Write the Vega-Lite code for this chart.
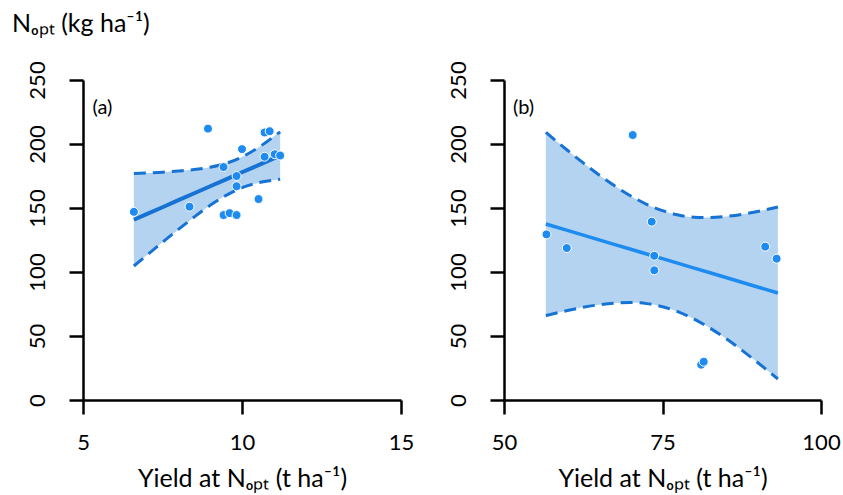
{
  "$schema": "https://vega.github.io/schema/vega-lite/v6.json",
  "background": "white",
  "padding": {"left": 12, "top": 11, "right": 0, "bottom": 3},
  "title": {"text": "Nₒₚₜ (kg ha⁻¹)", "anchor": "start", "frame": "bounds", "fontSize": 25, "font": "Lato", "fontWeight": "normal", "color": "black", "dx": -14, "offset": 24},
  "config": {
    "font": "Lato",
    "view": {"stroke": null},
    "axis": {
      "grid": false,
      "domainColor": "black",
      "domainWidth": 2.5,
      "tickColor": "black",
      "tickWidth": 2.5,
      "tickSize": 14,
      "labelColor": "black",
      "labelFont": "Lato",
      "labelFontSize": 22,
      "labelOverlap": false,
      "labelFlush": false,
      "titleColor": "black",
      "titleFont": "Lato",
      "titleFontSize": 25,
      "titleFontWeight": "normal"
    }
  },
  "spacing": 103,
  "bounds": "flush",
  "datasets": {
    "pointsA": [
      {"x": 8.93, "y": 212}, {"x": 10.71, "y": 209}, {"x": 10.87, "y": 210}, {"x": 10.0, "y": 196},
      {"x": 10.71, "y": 190}, {"x": 11.03, "y": 192}, {"x": 11.2, "y": 191}, {"x": 9.42, "y": 182},
      {"x": 9.83, "y": 175}, {"x": 9.83, "y": 167}, {"x": 10.52, "y": 157}, {"x": 8.35, "y": 151},
      {"x": 6.6, "y": 147}, {"x": 9.42, "y": 144.5}, {"x": 9.61, "y": 146}, {"x": 9.83, "y": 144.5}
    ],
    "bandA": [
      {"x": 6.6, "lo": 104.7, "hi": 176.9, "fit": 140.8},
      {"x": 7.0, "lo": 113.0, "hi": 177.4, "fit": 145.2},
      {"x": 7.5, "lo": 123.2, "hi": 178.0, "fit": 150.6},
      {"x": 8.0, "lo": 133.3, "hi": 178.9, "fit": 156.1},
      {"x": 8.5, "lo": 143.0, "hi": 180.0, "fit": 161.5},
      {"x": 9.0, "lo": 152.1, "hi": 181.9, "fit": 167.0},
      {"x": 9.5, "lo": 159.9, "hi": 184.9, "fit": 172.4},
      {"x": 10.0, "lo": 165.9, "hi": 189.9, "fit": 177.9},
      {"x": 10.5, "lo": 169.6, "hi": 197.0, "fit": 183.3},
      {"x": 11.0, "lo": 171.8, "hi": 205.8, "fit": 188.8},
      {"x": 11.2, "lo": 172.5, "hi": 209.5, "fit": 191.0}
    ],
    "pointsB": [
      {"x": 70.3, "y": 207}, {"x": 73.3, "y": 139.3}, {"x": 56.7, "y": 129.4}, {"x": 59.9, "y": 118.7},
      {"x": 73.7, "y": 112.7}, {"x": 73.7, "y": 101.3}, {"x": 91.2, "y": 119.8}, {"x": 93.0, "y": 110.4},
      {"x": 81.1, "y": 27.6}, {"x": 81.5, "y": 29.9}
    ],
    "bandB": [
      {"x": 56.6, "lo": 65.9, "hi": 209.1, "fit": 137.5},
      {"x": 60.0, "lo": 69.9, "hi": 195.1, "fit": 132.5},
      {"x": 62.5, "lo": 72.4, "hi": 185.2, "fit": 128.8},
      {"x": 65.0, "lo": 74.4, "hi": 175.8, "fit": 125.1},
      {"x": 67.5, "lo": 75.7, "hi": 167.1, "fit": 121.4},
      {"x": 70.0, "lo": 76.2, "hi": 159.4, "fit": 117.8},
      {"x": 72.5, "lo": 75.3, "hi": 152.9, "fit": 114.1},
      {"x": 75.0, "lo": 72.9, "hi": 147.9, "fit": 110.4},
      {"x": 77.5, "lo": 68.9, "hi": 144.5, "fit": 106.7},
      {"x": 80.0, "lo": 63.2, "hi": 142.8, "fit": 103.0},
      {"x": 82.5, "lo": 56.1, "hi": 142.6, "fit": 99.4},
      {"x": 85.0, "lo": 48.0, "hi": 143.4, "fit": 95.7},
      {"x": 87.5, "lo": 39.0, "hi": 145.0, "fit": 92.0},
      {"x": 90.0, "lo": 29.3, "hi": 147.3, "fit": 88.3},
      {"x": 93.2, "lo": 16.4, "hi": 150.8, "fit": 83.6}
    ]
  },
  "hconcat": [
    {
      "width": 318,
      "height": 320,
      "layer": [
        {
          "data": {"name": "bandA"},
          "mark": {"type": "area", "color": "#B4D3F1", "opacity": 1, "interpolate": "monotone"},
          "encoding": {
            "x": {"field": "x", "type": "quantitative", "scale": {"domain": [5, 15], "nice": false, "zero": false},
                  "axis": {"values": [5, 10, 15], "title": "Yield at Nₒₚₜ (t ha⁻¹)", "labelPadding": 18, "titlePadding": 13}},
            "y": {"field": "lo", "type": "quantitative", "scale": {"domain": [0, 250], "nice": false},
                  "axis": {"values": [0, 50, 100, 150, 200, 250], "title": null, "labelAngle": -90, "labelAlign": "center", "labelBaseline": "alphabetic", "labelPadding": 25}},
            "y2": {"field": "hi"}
          }
        },
        {
          "data": {"name": "bandA"},
          "mark": {"type": "line", "color": "#1673D4", "strokeWidth": 3, "strokeDash": [12, 7], "interpolate": "monotone"},
          "encoding": {"x": {"field": "x", "type": "quantitative"}, "y": {"field": "hi", "type": "quantitative"}}
        },
        {
          "data": {"name": "bandA"},
          "mark": {"type": "line", "color": "#1673D4", "strokeWidth": 3, "strokeDash": [12, 7], "interpolate": "monotone"},
          "encoding": {"x": {"field": "x", "type": "quantitative"}, "y": {"field": "lo", "type": "quantitative"}}
        },
        {
          "data": {"name": "bandA"},
          "mark": {"type": "line", "color": "#1673D4", "strokeWidth": 4},
          "encoding": {"x": {"field": "x", "type": "quantitative"}, "y": {"field": "fit", "type": "quantitative"}}
        },
        {
          "data": {"name": "pointsA"},
          "mark": {"type": "circle", "fill": "#1E8BF0", "stroke": "white", "strokeWidth": 1, "size": 80, "opacity": 1},
          "encoding": {"x": {"field": "x", "type": "quantitative"}, "y": {"field": "y", "type": "quantitative"}}
        },
        {
          "data": {"values": [{"label": "(a)"}]},
          "mark": {"type": "text", "align": "left", "baseline": "middle", "fontSize": 20, "color": "black"},
          "encoding": {"x": {"datum": 5.3}, "y": {"datum": 228}, "text": {"field": "label"}}
        }
      ]
    },
    {
      "width": 317,
      "height": 320,
      "layer": [
        {
          "data": {"name": "bandB"},
          "mark": {"type": "area", "color": "#B4D3F1", "opacity": 1, "interpolate": "monotone"},
          "encoding": {
            "x": {"field": "x", "type": "quantitative", "scale": {"domain": [50, 100], "nice": false, "zero": false},
                  "axis": {"values": [50, 75, 100], "title": "Yield at Nₒₚₜ (t ha⁻¹)", "labelPadding": 18, "titlePadding": 13}},
            "y": {"field": "lo", "type": "quantitative", "scale": {"domain": [0, 250], "nice": false},
                  "axis": {"values": [0, 50, 100, 150, 200, 250], "title": null, "labelAngle": -90, "labelAlign": "center", "labelBaseline": "alphabetic", "labelPadding": 25}},
            "y2": {"field": "hi"}
          }
        },
        {
          "data": {"name": "bandB"},
          "mark": {"type": "line", "color": "#1673D4", "strokeWidth": 3, "strokeDash": [12, 7], "interpolate": "monotone"},
          "encoding": {"x": {"field": "x", "type": "quantitative"}, "y": {"field": "hi", "type": "quantitative"}}
        },
        {
          "data": {"name": "bandB"},
          "mark": {"type": "line", "color": "#1673D4", "strokeWidth": 3, "strokeDash": [12, 7], "interpolate": "monotone"},
          "encoding": {"x": {"field": "x", "type": "quantitative"}, "y": {"field": "lo", "type": "quantitative"}}
        },
        {
          "data": {"name": "bandB"},
          "mark": {"type": "line", "color": "#1E8BF0", "strokeWidth": 3.5},
          "encoding": {"x": {"field": "x", "type": "quantitative"}, "y": {"field": "fit", "type": "quantitative"}}
        },
        {
          "data": {"name": "pointsB"},
          "mark": {"type": "circle", "fill": "#1E8BF0", "stroke": "white", "strokeWidth": 1, "size": 80, "opacity": 1},
          "encoding": {"x": {"field": "x", "type": "quantitative"}, "y": {"field": "y", "type": "quantitative"}}
        },
        {
          "data": {"values": [{"label": "(b)"}]},
          "mark": {"type": "text", "align": "left", "baseline": "middle", "fontSize": 20, "color": "black"},
          "encoding": {"x": {"datum": 51.4}, "y": {"datum": 228}, "text": {"field": "label"}}
        }
      ]
    }
  ]
}
